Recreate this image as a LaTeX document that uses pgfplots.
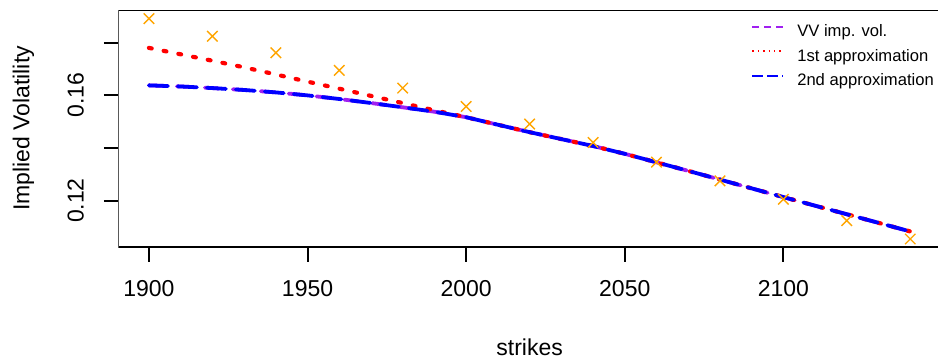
\documentclass[border=0pt]{standalone}
\usepackage{pgfplots}
\pgfplotsset{compat=1.18}
\usepackage{fontspec}
\setmainfont{Liberation Sans}
\definecolor{rpurple}{HTML}{A020F0}
\definecolor{rorange}{HTML}{FFA500}
\begin{document}
\begin{tikzpicture}
\useasboundingbox (-59.25pt,-56.5pt) rectangle (409.75pt,123.5pt);
\clip (-59.25pt,-56.5pt) rectangle (409.75pt,123.5pt);
\begin{axis}[
  scale only axis, width=411.1pt, height=118.5pt,
  xmin=1890.4, xmax=2149.6, ymin=0.10236, ymax=0.19246,
  axis line style={draw=none},
  tick align=outside, major tick length=7.3pt,
  every tick/.style={black, line width=1pt},
  xtick={1900,1950,2000,2050,2100}, xticklabels={1900,1950,2000,2050,2100},
  ytick={0.12,0.14,0.16,0.18}, yticklabels={0.12,{},0.16,{}},
  xtick pos=bottom, ytick pos=left,
  tick label style={font=\fontsize{11.5}{13.8}\selectfont},
  xticklabel style={anchor=north, inner sep=0pt},
  xticklabel shift=9.1pt,
  yticklabel style={rotate=90, anchor=south, inner sep=0pt},
  yticklabel shift=9.8pt,
  every axis x label/.style={at={(rel axis cs:0.5,0)}, yshift=-50pt, anchor=center},
  every axis y label/.style={at={(rel axis cs:0,0.5)}, xshift=-47.5pt, rotate=90, anchor=center},
  label style={font=\fontsize{11.5}{13.8}\selectfont},
  xlabel={strikes}, ylabel={Implied Volatility},
  legend style={at={(rel axis cs:0.7701,0.9388)}, anchor=north west, draw=none, fill=none,
    inner sep=0pt, outer sep=0pt,
    font=\fontsize{8.3}{10}\selectfont, row sep=4.25pt, column sep=6.5pt,
    nodes={inner sep=0pt, text height=6pt, text depth=2pt}},
  legend cell align=left,
  legend image code/.code={\draw[#1] (0pt,2.9pt) -- (15.5pt,2.9pt);},
]
\draw[black, line width=1pt, line cap=rect] (rel axis cs:1.01,1) -- (rel axis cs:0,1) -- (rel axis cs:0,0) -- (rel axis cs:1.01,0);
\addplot[rpurple, line width=1.9pt, line cap=round, dash pattern=on 7pt off 7pt,
  legend image post style={line width=0.8pt, line cap=butt, dash pattern=on 3.5pt off 2.5pt}]
  coordinates {
  (1900,0.16381) (1910,0.16339) (1920,0.16278) (1930,0.16206) (1940,0.16114)
  (1950,0.16000) (1960,0.15863) (1970,0.15710) (1980,0.15547) (1990,0.15379)
  (2000,0.15170) (2010,0.14884) (2020,0.14602) (2030,0.14339) (2040,0.14076)
  (2050,0.13779) (2060,0.13455) (2070,0.13131) (2080,0.12800) (2090,0.12465)
  (2100,0.12133) (2110,0.11806) (2120,0.11482) (2130,0.11154) (2140,0.10827)};
\addlegendentry{VV imp. vol.}
\addplot[red, line width=2.1pt, line cap=round, dash pattern=on 1.4pt off 6.1pt,
  legend image post style={line width=0.8pt, line cap=butt, dash pattern=on 0.7pt off 2pt}]
  coordinates {
  (1900,0.17806) (1910,0.17562) (1920,0.17318) (1930,0.17067) (1940,0.16796)
  (1950,0.16522) (1960,0.16255) (1970,0.15981) (1980,0.15707) (1990,0.15432)
  (2000,0.15170) (2010,0.14884) (2020,0.14602) (2030,0.14339) (2040,0.14076)
  (2050,0.13779) (2060,0.13455) (2070,0.13131) (2080,0.12800) (2090,0.12465)
  (2100,0.12133) (2110,0.11806) (2120,0.11482) (2130,0.11154) (2140,0.10827)};
\addlegendentry{1st approximation}
\addplot[blue, line width=1.9pt, line cap=round, dash pattern=on 9.5pt off 5pt,
  legend image post style={line width=0.8pt, line cap=butt, dash pattern=on 5.5pt off 2pt}]
  coordinates {
  (1900,0.16381) (1910,0.16339) (1920,0.16278) (1930,0.16206) (1940,0.16114)
  (1950,0.16000) (1960,0.15863) (1970,0.15710) (1980,0.15547) (1990,0.15379)
  (2000,0.15170) (2010,0.14884) (2020,0.14602) (2030,0.14339) (2040,0.14076)
  (2050,0.13779) (2060,0.13455) (2070,0.13131) (2080,0.12800) (2090,0.12465)
  (2100,0.12133) (2110,0.11806) (2120,0.11482) (2130,0.11154) (2140,0.10827)};
\addlegendentry{2nd approximation}
\addplot[only marks, mark=x, mark size=3.7pt, rorange, mark options={line width=0.7pt}, forget plot]
  coordinates {
  (1900,0.1892) (1920,0.1825) (1940,0.1762) (1960,0.1695) (1980,0.1628)
  (2000,0.1558) (2020,0.1491) (2040,0.1421) (2060,0.1346) (2080,0.1275)
  (2100,0.1205) (2120,0.1124) (2140,0.1054)};
\end{axis}
\end{tikzpicture}
\end{document}
